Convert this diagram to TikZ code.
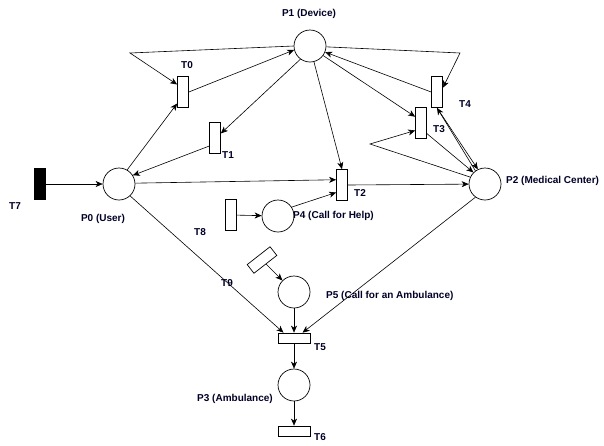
\documentclass[tikz,border=0pt]{standalone}
\usepackage{fontspec}
\setmainfont{Liberation Sans}
\usetikzlibrary{arrows.meta}
\begin{document}
\begin{tikzpicture}[x=1pt,y=-1pt,
  place/.style={draw,circle,line width=0.7pt,minimum size=32pt,inner sep=0pt},
  vtrans/.style={draw,rectangle,line width=0.7pt,minimum width=11pt,minimum height=31pt,inner sep=0pt},
  htrans/.style={draw,rectangle,line width=0.7pt,minimum width=32pt,minimum height=10pt,inner sep=0pt},
  lbl/.style={font=\fontsize{10}{12}\selectfont\bfseries,inner sep=0pt,text=black!85!blue},
  arc/.style={draw,line width=0.6pt,-{Stealth[length=7pt,width=6pt,inset=2pt]}},
  seg/.style={draw,line width=0.6pt}
]
\useasboundingbox (0,0) rectangle (604,445);
% places
\node[place] (P1) at (310,46) {};
\node[place] (P0) at (119,184) {};
\node[place] (P2) at (485,184) {};
\node[place] (P4) at (278,216) {};
\node[place] (P5) at (294,292) {};
\node[place] (P3) at (294,385) {};
% transitions
\node[vtrans] (T0) at (183,92) {};
\node[vtrans] (T1) at (215,138) {};
\node[vtrans] (T2) at (342,185) {};
\node[vtrans] (T3) at (421,123) {};
\node[vtrans] (T4) at (437,92) {};
\node[vtrans] (T8) at (231,215) {};
\node[vtrans,fill=black] (T7) at (40,184) {};
\node[htrans] (T5) at (294,338) {};
\node[htrans] (T6) at (294,431) {};
\node[draw,rectangle,line width=0.7pt,minimum width=29pt,minimum height=11pt,inner sep=0pt,rotate=38] (T9) at (262,260) {};
% bend points
\coordinate (c0) at (130,53);
\coordinate (c4) at (460,53);
\coordinate (c3) at (370,144);
% labels
\node[lbl] (lP1) at (309,14) {P1 (Device)};
\node[lbl] (lT0) at (187,65) {T0};
\node[lbl] (lT1) at (228,155) {T1};
\node[lbl] (lT2) at (360,193) {T2};
\node[lbl] (lT3) at (439,129) {T3};
\node[lbl] (lT4) at (465,104) {T4};
\node[lbl] (lT7) at (15,206) {T7};
\node[lbl] (lP0) at (103,219) {P0 (User)};
\node[lbl] (lT8) at (200,232) {T8};
\node[lbl,anchor=west] (lP4) at (293,216) {P4 (Call for Help)};
\node[lbl,anchor=west] (lP2) at (506,181) {P2 (Medical Center)};
\node[lbl] (lT9) at (227,283) {T9};
\node[lbl,anchor=west] (lP5) at (326,296) {P5 (Call for an Ambulance)};
\node[lbl] (lT5) at (320,347) {T5};
\node[lbl,anchor=east] (lP3) at (273,399) {P3 (Ambulance)};
\node[lbl] (lT6) at (320,437) {T6};
% arcs
\path[arc] (T7) -- (P0);
\path[arc] (P0.60) -- (T0.243);
\path[arc] (T0.east) -- (P1.194);
\path[arc] (P1.west) -- (c0) -- (T0.128);
\path[arc] (P1.234) -- (T1.38);
\path[arc] (T1.234) -- (P0.32);
\path[arc] (P1.284) -- (T2.north);
\path[arc] (P0.3) -- (T2.138);
\path[arc] (P4.33) -- (T2.232);
\path[arc] (T8) -- (P4);
\path[arc] (T2.east) -- (P2);
\path[arc] (P2.155) -- (c3) -- (T3.232);
\path[arc] (P1.324) -- (T3.133);
\path[arc] (T3.299) -- (P2.135);
\path[arc] (P2.126) -- (T4.south);
\path[arc] (T4.south) -- (P2.116);
\path[arc] (T4.west) -- (P1.338);
\path[arc] (P1.357) -- (c4) -- (T4.36);
\path[arc] (P0.313) -- (T5.153);
\path[arc] (P2.234) -- (T5.32);
\path[arc] (P5) -- (T5);
\path[arc] (T9) -- (P5);
\path[arc] (T5) -- (P3);
\path[arc] (P3) -- (T6);
\end{tikzpicture}
\end{document}
